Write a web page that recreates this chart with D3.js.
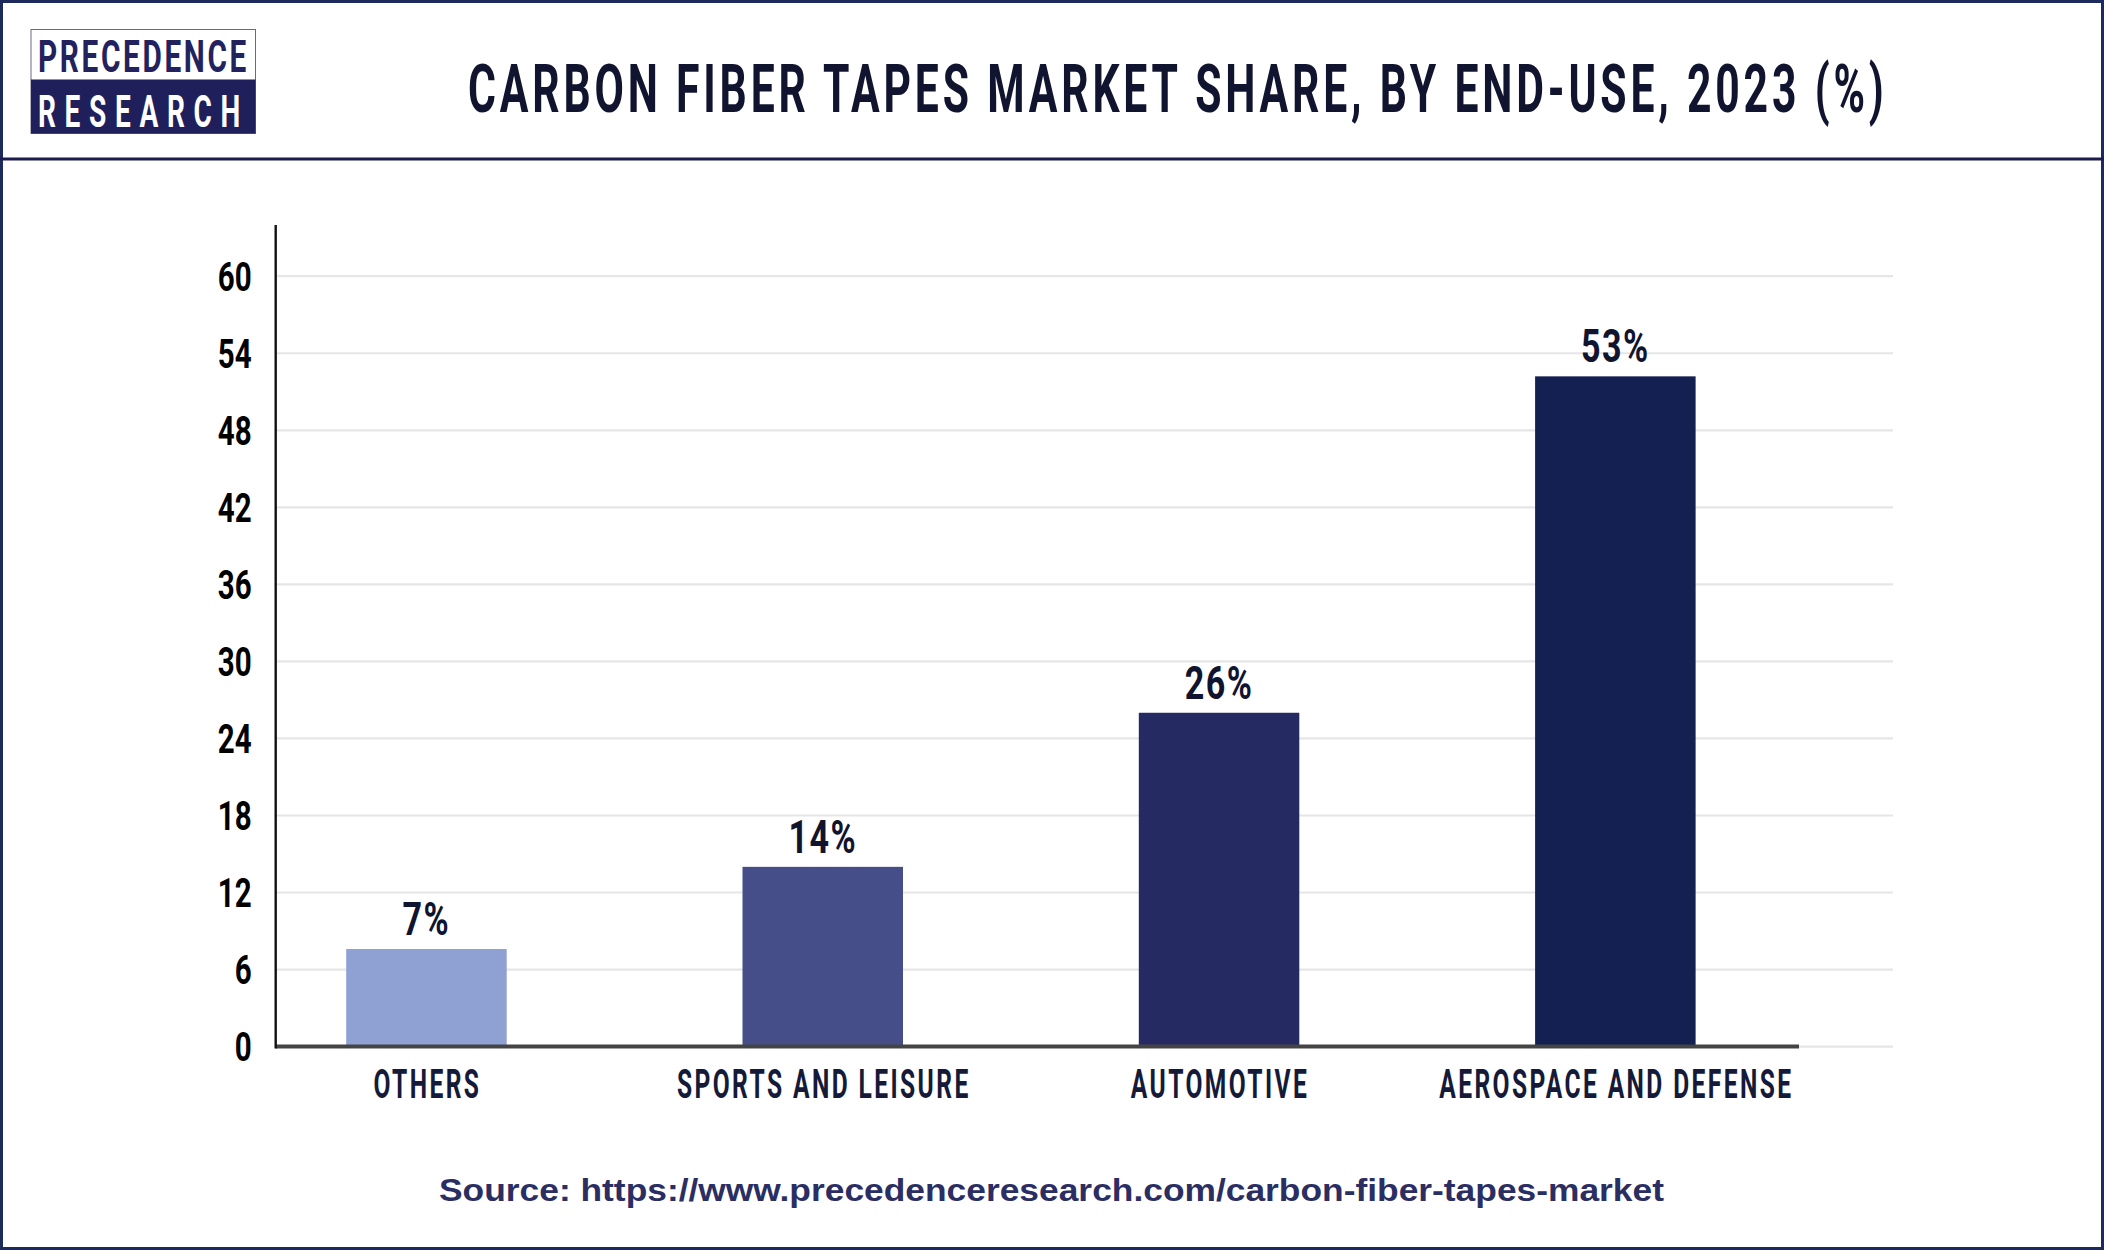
<!DOCTYPE html>
<html><head><meta charset="utf-8">
<script src="https://cdn.jsdelivr.net/npm/d3@7/dist/d3.min.js"></script>
<style>body{margin:0;background:#fff} svg{display:block}</style>
</head><body>
<svg id="chart" width="2104" height="1250"></svg>
<script>
const categories = ["OTHERS", "SPORTS AND LEISURE", "AUTOMOTIVE", "AEROSPACE AND DEFENSE"];
const shares = [7.6, 14.0, 26.0, 52.2];
const shareLabels = ["7%", "14%", "26%", "53%"];
const yTicks = [0, 6, 12, 18, 24, 30, 36, 42, 48, 54, 60];
const barColors = ["#8fa0d3", "#454e88", "#262a62", "#141f52"];
const titleText = "CARBON FIBER TAPES MARKET SHARE, BY END-USE, 2023 (%)";
const sourceText = "Source: https://www.precedenceresearch.com/carbon-fiber-tapes-market";
const logoTop = "PRECEDENCE";
const logoBottom = "RESEARCH";

const W = 2104, H = 1250;
const svg = d3.select("#chart");
const FONT = "Roboto, 'Noto Sans', sans-serif";

function fitWidth(sel, target, adjust) {
  sel.attr("textLength", target).attr("lengthAdjust", adjust || "spacingAndGlyphs");
}
function condense(sel, k) {
  sel.each(function () {
    const w = this.getComputedTextLength();
    d3.select(this).attr("textLength", w * k).attr("lengthAdjust", "spacingAndGlyphs");
  });
}
// place a text horizontally scaled so its width equals target (anchor start)
function scaledText(parent, tx, ty, target, setup) {
  const g = parent.append("g");
  const t = g.append("text").call(setup);
  const w = t.node().getComputedTextLength();
  g.attr("transform", `translate(${tx},${ty}) scale(${target / w},1)`);
  return t;
}

// background + frame
svg.append("rect").attr("width", W).attr("height", H).attr("fill", "#ffffff");
svg.append("rect").attr("x", 1.5).attr("y", 1.5).attr("width", W - 3).attr("height", H - 3)
  .attr("fill", "none").attr("stroke", "#1c2a5c").attr("stroke-width", 3);
svg.append("line").attr("x1", 0).attr("x2", W).attr("y1", 159).attr("y2", 159)
  .attr("stroke", "#1b1b4d").attr("stroke-width", 3);

// logo
const logo = svg.append("g");
logo.append("rect").attr("x", 31).attr("y", 29.5).attr("width", 224.5).attr("height", 104)
  .attr("fill", "#ffffff").attr("stroke", "#6a6a80").attr("stroke-width", 1);
logo.append("rect").attr("x", 31).attr("y", 79.5).attr("width", 224.5).attr("height", 54)
  .attr("fill", "#1f1f5c");
logo.append("text").attr("font-family", FONT).attr("font-weight", 700)
  .attr("x", 38).attr("y", 71.5).attr("font-size", 45).attr("fill", "#22225e")
  .attr("letter-spacing", 4).text(logoTop).call(fitWidth, 211);
logo.append("text").attr("font-family", FONT).attr("font-weight", 700)
  .attr("x", 38).attr("y", 127).attr("font-size", 45).attr("fill", "#ffffff")
  .attr("letter-spacing", 14).text(logoBottom).call(fitWidth, 211);

// title
scaledText(svg, 468, 112, 1420, t => t.attr("font-family", FONT).attr("font-weight", 700)
  .attr("font-size", 67).attr("letter-spacing", 6).attr("fill", "#10142e").text(titleText));

// scales
const x = d3.scaleBand().domain(categories).range([228.3, 1813.5])
  .paddingInner(0.595).paddingOuter(0.2975);
const y = d3.scaleLinear().domain([0, 60]).range([1046.6, 276.2]);
const axisX = 275.7;

// gridlines
svg.append("g").selectAll("line").data(yTicks).join("line")
  .attr("x1", axisX).attr("x2", 1893)
  .attr("y1", d => y(d)).attr("y2", d => y(d))
  .attr("stroke", "#e6e6e8").attr("stroke-width", 2.2);

// bars
const data = categories.map((c, i) => ({ cat: c, v: shares[i], label: shareLabels[i], color: barColors[i] }));
svg.append("g").selectAll("rect").data(data).join("rect")
  .attr("x", d => x(d.cat)).attr("width", x.bandwidth())
  .attr("y", d => y(d.v)).attr("height", d => y(0) - y(d.v))
  .attr("fill", d => d.color);

// baseline
svg.append("line").attr("x1", axisX).attr("x2", 1799).attr("y1", y(0)).attr("y2", y(0))
  .attr("stroke", "#444444").attr("stroke-width", 4);

// y axis
const yAxis = svg.append("g").attr("transform", `translate(${axisX},0)`)
  .call(d3.axisLeft(y).tickValues(yTicks).tickSize(0).tickPadding(24).tickFormat(d3.format("d")));
yAxis.select(".domain").remove();
yAxis.selectAll("text").attr("font-family", FONT).attr("font-weight", 700).attr("font-size", 41)
  .attr("fill", "#000000").attr("dy", "0.35em").call(condense, 0.72);
svg.append("line").attr("x1", axisX).attr("x2", axisX).attr("y1", 225).attr("y2", y(0) + 2)
  .attr("stroke", "#111111").attr("stroke-width", 2.4);

// value labels
svg.append("g").selectAll("text").data(data).join("text")
  .attr("x", d => x(d.cat) + x.bandwidth() / 2).attr("y", d => y(d.v) - 14)
  .attr("text-anchor", "middle").attr("font-family", FONT).attr("font-weight", 700)
  .attr("font-size", 46).attr("letter-spacing", 2).attr("fill", "#10142e").text(d => d.label)
  .call(condense, 0.74);

// x labels (horizontally condensed via transform, centred under each band)
const xAxis = svg.append("g").attr("transform", `translate(0,${y(0)})`)
  .call(d3.axisBottom(x).tickSize(0).tickPadding(0));
xAxis.select(".domain").remove();
xAxis.selectAll("text").attr("font-family", FONT).attr("font-weight", 700).attr("font-size", 41)
  .attr("fill", "#141a38").attr("dy", 0).attr("x", 0).attr("y", 51.5)
  .attr("letter-spacing", 4)
  .attr("transform", "translate(1,0) scale(0.6,1)");

// source
svg.append("text").attr("x", 439).attr("y", 1201).attr("font-family", "'Liberation Sans', Arial, sans-serif")
  .attr("font-weight", 700).attr("font-size", 31).attr("fill", "#2b2e62").text(sourceText)
  .call(fitWidth, 1225);
</script>
</body></html>
